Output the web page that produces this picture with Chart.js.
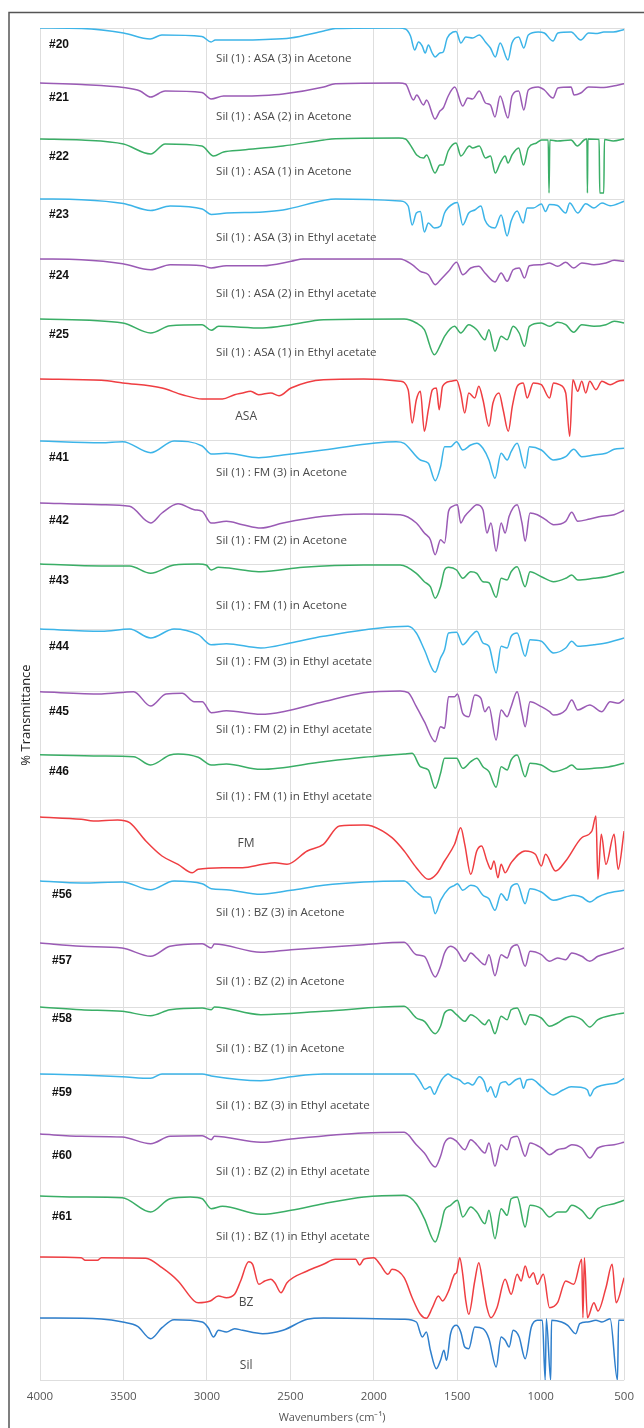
<!DOCTYPE html>
<html>
<head>
<meta charset="utf-8">
<script src="https://cdn.jsdelivr.net/npm/chart.js@4.4.1/dist/chart.umd.min.js"></script>
<style>
body{margin:0;background:#fff}
canvas{display:block}
</style>
</head>
<body>
<canvas id="ftir" width="644" height="1428"></canvas>
<script>
// each spectrum: [wavenumber, drop below the panel's top line]
let s20=[[4000,0],[3750,0.5],[3500,5],[3340,11],[3270,7],[3030,8.5],[2975,14],[2950,12],[2800,12],[2650,11.5],[2500,10],[2300,3],[2230,0.5],[1850,0],[1810,1],[1780,8],[1755,22],[1732,14],[1710,18],[1692,25],[1673,17],[1650,25],[1633,29],[1604,25],[1584,24],[1560,10],[1525,4],[1507,3.5],[1478,15],[1449,9],[1408,10],[1368,7],[1331,14],[1301,20],[1272,29],[1243,15],[1196,32],[1172,15],[1132,9],[1101,20],[1074,7],[1015,4],[978,5],[926,13],[897,5],[818,4],[760,12],[713,5],[661,5.5],[622,4],[565,4],[500,1.5]];
let s21=[[4000,0],[3750,1.5],[3500,4.5],[3400,8],[3337,14],[3250,8],[3030,9.5],[2975,16],[2900,13],[2800,13],[2665,12.5],[2544,11],[2300,4],[2230,0.7],[1850,0],[1810,1],[1762,17],[1743,12],[1702,22],[1684,17],[1633,36],[1604,28],[1584,25],[1554,13],[1515,4],[1467,23],[1437,15],[1408,16],[1368,8],[1331,20],[1301,22],[1274,34],[1243,13],[1196,35],[1172,13],[1132,8],[1101,27],[1074,7],[1015,4],[978,7],[926,15],[897,5],[818,4],[800,12],[760,10],[713,4],[622,4.5],[565,3],[500,0.7]];
let s22=[[4000,1],[3750,2],[3500,6],[3337,16],[3250,6],[3030,8],[2960,18],[2900,14],[2786,12],[2544,8],[2300,2],[2230,0.7],[1850,0],[1810,1],[1770,10],[1743,17],[1702,20],[1684,17],[1633,35],[1604,27],[1584,27],[1554,13],[1507,5],[1478,18],[1427,8],[1408,10],[1368,8],[1331,20],[1301,18],[1272,35],[1243,25],[1213,18],[1196,25],[1172,17],[1132,10],[1103,27],[1074,10],[1025,5],[995,2],[955,2],[950,55],[945,2],[900,3],[818,2],[780,8],[740,2],[723,1],[720,55],[717,1],[650,1.5],[646,55],[622,55],[618,1.5],[565,3],[500,1]];
let s23=[[4000,0],[3753,0.7],[3500,4.5],[3337,11.5],[3220,7],[3028,10],[2974,15.5],[2880,14],[2665,13],[2544,11],[2302,1.5],[2229,0],[1842,2],[1794,7],[1770,26],[1745,14],[1721,12.5],[1697,33],[1673,24],[1637,29],[1600,27],[1576,14],[1516,4],[1499,3.5],[1467,26],[1431,14],[1395,11],[1358,7],[1334,21],[1310,27],[1274,29],[1237,16],[1201,37],[1177,22],[1141,12],[1105,24],[1081,9],[1044,9],[996,5],[971,12.5],[947,5.5],[899,6.5],[850,14],[826,4],[778,14],[730,4.7],[681,9],[633,4],[584,6.7],[500,2.3]];
let s24=[[4000,0],[3753,0.7],[3504,4.7],[3337,10.7],[3220,5.7],[3028,6.7],[2974,9],[2883,6.7],[2665,6.7],[2495,2.3],[2423,0],[1842,0],[1770,5.7],[1721,12.3],[1673,15.7],[1632,25.7],[1600,20.7],[1552,12.3],[1504,3.3],[1467,15.7],[1419,9],[1371,7.3],[1334,14],[1274,23],[1237,14],[1201,22.3],[1165,10.7],[1129,9],[1097,19],[1068,6.7],[996,5.7],[947,4],[899,7.3],[850,3.3],[802,9],[754,4],[681,5.7],[609,4],[560,1.3],[500,2.3]];
let s25=[[4000,0],[3504,4],[3337,14],[3220,6.7],[3028,5.7],[2974,11.3],[2930,7.3],[2665,9],[2495,5.7],[2302,0.7],[1818,0],[1745,4],[1697,10.7],[1637,35.7],[1600,25.7],[1576,17.3],[1516,7.3],[1479,14],[1431,5.7],[1383,10.7],[1334,20.7],[1310,10.7],[1274,32.3],[1237,17.3],[1201,20.7],[1165,7.3],[1129,14],[1097,27.3],[1068,7.3],[996,4],[947,7.3],[899,3.3],[850,5.7],[802,13.3],[754,5.7],[681,7.3],[609,5.7],[560,2.3],[500,4]];
let sASA=[[4000,0],[3632,1.3],[3504,4],[3269,9],[3148,15.7],[3028,20],[2907,20],[2834,15.7],[2786,14],[2738,12.3],[2690,15.7],[2617,14],[2568,16.7],[2496,9],[2302,0.7],[2060,0],[1842,2.3],[1794,10.7],[1770,44],[1745,20.7],[1721,12.3],[1697,52.3],[1673,30.7],[1649,10.7],[1625,9],[1608,30.7],[1588,7.3],[1540,2.3],[1504,1.3],[1479,14],[1455,34],[1431,14],[1395,19],[1371,7.3],[1346,20.7],[1310,47.3],[1286,24],[1250,14],[1225,30.7],[1194,52.3],[1170,27.3],[1141,7.3],[1105,4],[1081,19],[1044,4],[996,5.7],[947,19],[923,4],[887,5.7],[850,14],[826,57.3],[807,0.7],[778,12.3],[754,2.3],[730,14],[706,2.3],[669,10.7],[633,2.3],[584,5.7],[536,2.3],[500,1.3]];
let s41=[[4000,0],[3632,1.7],[3504,0.7],[3337,11.7],[3197,0],[3028,5],[2974,13],[2883,12.3],[2689,16.7],[2544,14],[2302,9],[1866,0.7],[1818,2.3],[1721,19],[1673,22.3],[1632,39.7],[1600,25.7],[1576,5.7],[1540,5.7],[1504,0.7],[1467,9],[1419,4],[1383,2.3],[1346,7.3],[1310,19],[1274,37.3],[1237,12.3],[1201,19],[1177,10.7],[1141,2.3],[1093,27.3],[1068,5.7],[996,9],[923,19],[850,15.7],[802,8.3],[754,15.7],[681,14],[609,12.3],[560,8.3],[500,7.3]];
let s42=[[4000,0],[3632,1.7],[3463,3.3],[3337,20],[3269,10],[3173,0.7],[3076,6.7],[3028,8.3],[2974,20],[2883,18.3],[2786,21.7],[2677,25],[2544,20],[2302,13.3],[2060,11],[1842,11.7],[1745,20],[1697,30],[1661,36.7],[1632,51.7],[1600,36.7],[1576,40],[1552,8.3],[1528,3.3],[1499,1.7],[1479,20],[1455,13.3],[1419,6.7],[1383,1.7],[1346,6.7],[1322,30],[1298,20],[1267,48.3],[1237,20],[1213,30],[1189,13.3],[1141,1.7],[1112,20],[1093,38.3],[1064,10],[1020,11.7],[971,16.7],[923,21.7],[850,18.3],[814,9.3],[778,18.3],[706,16],[633,13.3],[560,11.7],[500,7.3]];
let s43=[[4000,0],[3632,2],[3463,2],[3337,9.3],[3197,1],[3052,0],[3004,1],[2974,6],[2931,3.3],[2786,6],[2677,7.7],[2423,3.3],[2060,1],[1842,1],[1745,9.3],[1697,17.7],[1661,22.7],[1632,34.3],[1600,22.7],[1576,6],[1552,3.3],[1504,6],[1467,14.3],[1419,7.7],[1383,9.3],[1346,17.7],[1310,18.7],[1267,33.3],[1237,14.3],[1201,16],[1177,7.7],[1141,2.7],[1093,22.7],[1064,7.7],[996,12.7],[923,17.7],[850,14.3],[814,11],[778,16],[681,14.3],[609,12.7],[500,7.7]];
let s44=[[4000,0],[3632,2.3],[3463,0],[3337,9],[3197,0],[3052,5.7],[2974,15.7],[2883,14.7],[2677,19],[2500,14],[2302,7.3],[1794,-2.7],[1745,4],[1697,20.7],[1632,43.3],[1600,29],[1576,20.7],[1552,4],[1504,3.3],[1467,15.7],[1419,7.3],[1383,2.3],[1346,14],[1310,17.3],[1267,44],[1237,17.3],[1201,19],[1177,7.3],[1141,4],[1093,27.3],[1064,10.7],[996,12.3],[923,24],[850,19],[814,12.3],[778,17.3],[681,15.7],[609,14],[500,9]];
let s45=[[4000,0.7],[3632,3],[3439,0.7],[3337,15],[3245,3],[3148,2.3],[3076,10.7],[3028,10.7],[2974,21.7],[2883,19.7],[2677,23.3],[2544,20.7],[2302,10.7],[2060,1.7],[1842,0],[1794,1.7],[1745,15.7],[1697,30.7],[1632,50.7],[1600,35.7],[1576,37.3],[1552,5.7],[1516,5.7],[1499,3],[1467,22.3],[1431,25.7],[1395,4],[1358,7.3],[1334,20.7],[1310,15.7],[1267,49],[1237,19],[1201,25.7],[1177,15.7],[1141,0.7],[1112,22.3],[1093,35.7],[1064,10.7],[996,15.7],[947,20.7],[923,24],[850,19],[814,9],[778,19],[706,14],[633,20.7],[584,10.7],[536,12.3],[500,8.3]];
let s46=[[4000,0.7],[3632,2],[3439,2.7],[3337,11],[3221,1],[3173,0],[3052,3.3],[2974,11],[2883,10],[2677,15.3],[2302,7.7],[2060,3.3],[1818,0],[1770,-0.7],[1721,12.7],[1673,16],[1632,34.3],[1600,19.3],[1576,4.3],[1540,4.3],[1504,4.3],[1467,14.3],[1419,7.7],[1383,4.3],[1346,12.7],[1310,17.7],[1267,33.3],[1237,12.7],[1201,16],[1177,6],[1141,1],[1093,22.7],[1064,9.3],[996,11],[923,17.7],[850,14.3],[814,11],[778,15.3],[681,14.3],[609,13.3],[500,9.3]];
let sFM=[[4000,0],[3753,2.3],[3680,4],[3535,3],[3463,5.7],[3366,24],[3269,39],[3173,47.3],[3088,55.7],[3052,52.3],[2907,50.7],[2786,50.7],[2665,47.3],[2593,45.7],[2520,47.3],[2399,34],[2302,27.3],[2206,9],[2060,8],[2012,9],[1891,20.7],[1818,34],[1745,50.7],[1673,62.3],[1625,57.3],[1576,44],[1516,27.3],[1479,10.7],[1455,27.3],[1419,57.3],[1383,34],[1354,29],[1322,44],[1298,52.3],[1280,44],[1256,60.7],[1237,47.3],[1213,55.7],[1177,45.7],[1093,34],[1032,37.3],[996,49],[971,37.3],[911,54],[850,44],[754,20.7],[693,14],[669,-1],[657,62.3],[637,17.3],[609,47.3],[560,17.3],[536,52.3],[500,14]];
let s56=[[4000,0],[3753,2],[3508,1],[3337,8.7],[3197,0],[3028,2.7],[2974,7.7],[2883,8.7],[2677,13.3],[2496,9.3],[2302,4.3],[2060,1],[1818,0],[1745,11],[1697,16],[1661,16],[1632,32.7],[1600,19.3],[1552,7.7],[1516,4.3],[1499,2.7],[1467,9.3],[1419,4.3],[1383,6],[1346,14.3],[1310,17.7],[1274,29.3],[1237,12.7],[1201,19.3],[1177,6],[1141,2.7],[1093,22.7],[1064,7.7],[996,11],[923,19.3],[850,16],[802,14.3],[754,16],[706,21],[657,16],[609,12.7],[500,9.3]];
let s57=[[4000,0],[3753,3.3],[3508,5],[3337,13.3],[3221,3.3],[3028,0.7],[2974,5],[2955,1],[2677,9.3],[2496,6.7],[2060,1.7],[1818,-0.7],[1745,11.7],[1697,13.3],[1632,34],[1600,23.3],[1576,10],[1540,3.3],[1504,6.7],[1455,18.3],[1419,10],[1383,15],[1334,21.7],[1310,11.7],[1274,32.7],[1237,11.7],[1201,15],[1177,5],[1141,1.7],[1093,23.3],[1064,8.3],[996,11.7],[947,18.3],[899,15],[850,16.7],[814,10],[754,13.3],[706,18.3],[657,13.3],[560,8.3],[500,5]];
let s58=[[4000,0],[3753,2.7],[3508,4.3],[3337,8.7],[3221,2.7],[3028,1],[2974,2.7],[2955,0],[2677,7.7],[2302,4.3],[1818,-0.7],[1745,11],[1697,14.3],[1632,26.7],[1600,19.3],[1576,6],[1540,2.7],[1504,7.7],[1455,14.3],[1419,7.7],[1383,11],[1334,17.7],[1310,12.7],[1274,26.7],[1237,9.3],[1201,12.7],[1177,2.7],[1141,1],[1093,17.7],[1064,7.7],[996,11],[947,19.3],[899,16],[850,11],[814,9.3],[754,12.7],[706,20],[657,12.7],[560,7.7],[500,6]];
let s59=[[4000,0],[3753,1],[3508,2.7],[3337,4.3],[3269,0],[3028,0],[2974,2],[2677,6.7],[2496,2.7],[2302,0],[1761,0],[1722,7.7],[1692,15.3],[1663,12.7],[1637,20.3],[1614,12.7],[1594,6],[1574,2],[1555,0],[1525,3.3],[1486,6],[1456,10],[1437,8.7],[1408,11],[1368,2.7],[1339,7.7],[1319,17.7],[1300,12.7],[1270,23.3],[1241,9.3],[1211,7.7],[1191,11],[1152,6],[1123,4.3],[1103,14.3],[1083,6],[1054,5.3],[995,12.7],[926,21],[867,16],[818,12.7],[760,13.3],[720,16],[705,22],[681,15.3],[622,11],[543,8.7],[500,4.3]];
let s60=[[4000,0],[3753,2.3],[3508,3],[3337,9.7],[3221,2.3],[3028,1.7],[2974,5.7],[2955,2.3],[2677,8.3],[2496,5],[2060,-1],[1818,-1.7],[1745,10.7],[1697,19],[1632,33],[1600,22.3],[1576,9],[1540,4],[1504,7.3],[1455,15.7],[1419,5.7],[1383,10.7],[1334,19],[1310,9],[1274,32.3],[1237,10.7],[1201,15.7],[1177,4],[1141,2.3],[1093,22.3],[1064,9],[996,14],[947,20.7],[899,15.7],[850,14],[814,10.7],[754,14],[706,24],[657,14],[560,10.7],[500,8.3]];
let s61=[[4000,0],[3753,1],[3508,1.7],[3337,16],[3221,2.7],[3100,1],[3028,2.7],[2974,12.7],[2907,10.3],[2677,18.3],[2496,14.3],[2302,7.7],[2060,1],[1818,-0.7],[1745,7.7],[1697,22.7],[1632,46],[1600,31],[1576,14.3],[1540,9.3],[1499,4.3],[1467,21],[1419,11],[1383,16],[1334,27.7],[1310,14.3],[1274,42.7],[1237,12.7],[1201,19.3],[1177,2.7],[1141,1],[1093,31],[1064,9.3],[996,12.7],[947,21],[899,16],[850,16],[814,9.3],[754,14.3],[706,22.7],[657,12.7],[560,7.7],[500,4.3]];
let sBZ=[[4000,0],[3753,0.7],[3729,3.3],[3656,3.3],[3632,0.7],[3366,1.3],[3269,10.7],[3173,24],[3076,44],[3052,45.7],[2980,44],[2931,39],[2883,40.7],[2834,37.3],[2798,24],[2750,4.7],[2726,7.3],[2689,27.3],[2653,24],[2617,22.3],[2593,25.7],[2556,35.7],[2520,25.7],[2399,14],[2302,7.3],[2230,2.3],[2109,2.3],[2085,8],[2060,2.3],[2000,0.7],[1963,7.3],[1915,17.3],[1891,12.3],[1818,20.7],[1770,40.7],[1721,57.3],[1685,61.3],[1649,50.7],[1613,39],[1588,44],[1552,34],[1516,17.3],[1504,15.7],[1485,0.7],[1467,17.3],[1450,42.3],[1431,57.3],[1395,24],[1371,5.7],[1346,27.3],[1322,50.7],[1298,60.7],[1262,50.7],[1213,22.3],[1177,37.3],[1141,17.3],[1117,24],[1093,9],[1068,20.7],[1044,15.7],[1020,27.3],[984,17.3],[947,50.7],[899,45.7],[850,24],[802,27.3],[754,2.3],[747,60.7],[738,0.7],[720,60.7],[681,45.7],[657,54],[609,30.7],[572,7.3],[548,45.7],[500,20.7]];
let sSil=[[4000,0],[3632,1],[3504,4],[3415,8.3],[3337,20.7],[3269,9.7],[3197,1.7],[3028,4],[2992,9.7],[2960,19],[2931,12.3],[2883,14],[2834,10.7],[2786,12.3],[2665,15.7],[2544,12.3],[2399,1.3],[2302,0],[1818,1.3],[1745,4],[1709,19],[1685,14],[1661,32.3],[1625,50.7],[1600,42.3],[1580,32.3],[1564,42.3],[1540,15.7],[1504,7.3],[1479,14],[1455,29],[1431,30.7],[1395,9],[1346,10.7],[1310,20.7],[1267,49],[1237,19],[1213,22.3],[1189,29],[1165,12.3],[1129,19],[1093,40.7],[1056,9],[1020,2.3],[990,2.3],[973,62],[966,0.7],[940,62],[935,2.3],[875,4],[838,7.3],[790,15.7],[766,5.7],[718,4],[669,2.3],[633,4],[584,0.7],[540,62],[533,2.3],[500,2.3]];

let spectra=[s20,s21,s22,s23,s24,s25,sASA,s41,s42,s43,s44,s45,s46,sFM,s56,s57,s58,s59,s60,s61,sBZ,sSil];
let sampleIds=['#20','#21','#22','#23','#24','#25','','#41','#42','#43','#44','#45','#46','','#56','#57','#58','#59','#60','#61','',''];
let sampleNames=['Sil (1) : ASA (3) in Acetone','Sil (1) : ASA (2) in Acetone','Sil (1) : ASA (1) in Acetone',
  'Sil (1) : ASA (3) in Ethyl acetate','Sil (1) : ASA (2) in Ethyl acetate','Sil (1) : ASA (1) in Ethyl acetate','ASA',
  'Sil (1) : FM (3) in Acetone','Sil (1) : FM (2) in Acetone','Sil (1) : FM (1) in Acetone',
  'Sil (1) : FM (3) in Ethyl acetate','Sil (1) : FM (2) in Ethyl acetate','Sil (1) : FM (1) in Ethyl acetate','FM',
  'Sil (1) : BZ (3) in Acetone','Sil (1) : BZ (2) in Acetone','Sil (1) : BZ (1) in Acetone',
  'Sil (1) : BZ (3) in Ethyl acetate','Sil (1) : BZ (2) in Ethyl acetate','Sil (1) : BZ (1) in Ethyl acetate','BZ','Sil'];
// offset of each trace in the stack (top of its band)
let panelTop=[0,55,110,171,231,291,351,413,475,536,601,663,726,789,853,915,979,1046,1106,1168,1229,1290];
let stackBottom=1352;
let xTicks=[4000,3500,3000,2500,2000,1500,1000,500];

// label placement inside each band
let idDy=[17,15,19,16,17,16,0,17,18,17,18,21,18,0,14,18,12,19,22,21,0,0];
let nameDy=[31,34,34,39,35,34,38,32,38,42,33,39,43,27,32,39,42,32,38,41,46,48];

const C_BLUE='#3cb4e8', C_PURPLE='#9a5bb5', C_GREEN='#3aae66', C_RED='#ef3e42', C_SIL='#2f7fcc';
let colors=[C_BLUE,C_PURPLE,C_GREEN,C_BLUE,C_PURPLE,C_GREEN,C_RED,
  C_BLUE,C_PURPLE,C_GREEN,C_BLUE,C_PURPLE,C_GREEN,C_RED,
  C_BLUE,C_PURPLE,C_GREEN,C_BLUE,C_PURPLE,C_GREEN,C_RED,C_SIL];

let datasets=spectra.map(function(sp,i){
  return {
    label:sampleNames[i],
    data:sp.map(function(p){return {x:p[0],y:panelTop[i]+p[1]};}),
    borderColor:colors[i],
    borderWidth:1.5,
    pointRadius:0,
    cubicInterpolationMode:'monotone',
    fill:false
  };
});

const bandLabels={
  id:'bandLabels',
  afterDatasetsDraw(chart){
    const ctx=chart.ctx, x=chart.scales.x, y=chart.scales.y;
    ctx.save();
    for(let i=0;i<spectra.length;i++){
      if(sampleIds[i]){
        ctx.font='bold 12px "Liberation Sans", Arial, sans-serif';
        ctx.fillStyle='#111';
        ctx.textAlign='left';
        ctx.textBaseline='middle';
        ctx.fillText(sampleIds[i], i>=14?52:49, y.getPixelForValue(panelTop[i]+idDy[i]));
        ctx.font='11.6px "Open Sans", sans-serif';
        ctx.fillStyle='#4a4a4a';
        ctx.fillText(sampleNames[i], x.getPixelForValue(2945), y.getPixelForValue(panelTop[i]+nameDy[i]));
      }else{
        ctx.font='12px "Open Sans", sans-serif';
        ctx.fillStyle='#4a4a4a';
        ctx.textAlign='center';
        ctx.textBaseline='middle';
        ctx.fillText(sampleNames[i], x.getPixelForValue(2765), y.getPixelForValue(panelTop[i]+nameDy[i]));
      }
    }
    ctx.restore();
  },
  afterDraw(chart){
    const ctx=chart.ctx, a=chart.chartArea;
    ctx.save();
    // outer frame
    ctx.strokeStyle='#555';
    ctx.lineWidth=1.5;
    ctx.beginPath();
    ctx.moveTo(9,1428);
    ctx.lineTo(9,12.5);
    ctx.lineTo(644,12.5);
    ctx.stroke();
    // axis titles
    ctx.fillStyle='#222';
    ctx.font='13px "Open Sans", sans-serif';
    ctx.textAlign='center';
    ctx.textBaseline='middle';
    ctx.translate(26,715);
    ctx.rotate(-Math.PI/2);
    ctx.fillText('% Transmittance',0,0);
    ctx.restore();
    ctx.save();
    ctx.fillStyle='#555';
    ctx.font='11px "Open Sans", sans-serif';
    ctx.textAlign='center';
    ctx.textBaseline='middle';
    ctx.fillText('Wavenumbers (cm\u207B\u00B9)',(a.left+a.right)/2,1418);
    ctx.restore();
  }
};

new Chart(document.getElementById('ftir'),{
  type:'line',
  data:{datasets:datasets},
  options:{
    responsive:false,
    animation:false,
    devicePixelRatio:1,
    layout:{padding:{left:40,right:10,top:28,bottom:0}},
    plugins:{legend:{display:false},tooltip:{enabled:false}},
    scales:{
      x:{
        type:'linear',
        reverse:true,
        min:500,max:4000,
        afterBuildTicks:function(s){s.ticks=xTicks.map(function(v){return {value:v};});},
        afterFit:function(s){s.height=48;},
        grid:{color:'#dedede',drawTicks:false},
        border:{display:false},
        ticks:{color:'#555',font:{family:'"Open Sans", sans-serif',size:11.5},padding:10,maxRotation:0,
          callback:function(v){return String(v);}}
      },
      y:{
        type:'linear',
        reverse:true,
        min:0,max:stackBottom,
        afterBuildTicks:function(s){s.ticks=panelTop.concat([stackBottom]).map(function(v){return {value:v};});},
        afterFit:function(s){s.width=0;},
        grid:{color:'#dedede',drawTicks:false},
        border:{display:false},
        ticks:{display:false}
      }
    }
  },
  plugins:[bandLabels]
});
</script>
</body>
</html>
